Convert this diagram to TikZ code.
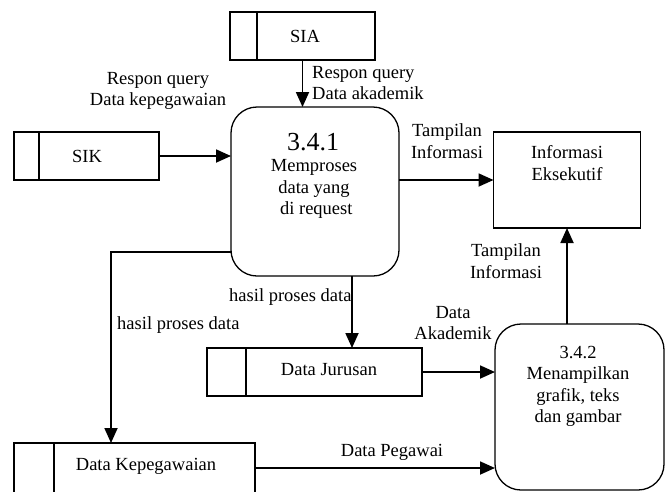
\documentclass[tikz,border=0pt]{standalone}
\usepackage{fontspec}
\setmainfont{Liberation Serif}
\usetikzlibrary{arrows.meta}
\begin{document}
\begin{tikzpicture}[x=1pt,y=-1pt,
  outline/.style={draw, line width=1.3pt, inner sep=0pt, outer sep=0pt},
  store/.style={outline},
  proc/.style={outline, rounded corners=26pt},
  divider/.style={line width=1.3pt},
  flow/.style={line width=1.8pt, -{Triangle[length=15pt,width=13pt]}},
  txt/.style={font=\fontsize{18.5}{21.5}\selectfont, align=center, inner sep=0pt},
  bigtxt/.style={font=\fontsize{26}{30}\selectfont, inner sep=0pt}]
\clip (0,0) rectangle (668,491);

% data stores
\node[store, minimum width=145pt, minimum height=48pt] (sia) at (302.5,36) {};
\draw[divider] ([xshift=27pt]sia.north west) -- ([xshift=27pt]sia.south west);
\node[txt] (siaT) at (305,36) {SIA};

\node[store, minimum width=145pt, minimum height=48pt] (sik) at (86.5,156) {};
\draw[divider] ([xshift=25pt]sik.north west) -- ([xshift=25pt]sik.south west);
\node[txt] (sikT) at (87,156) {SIK};

\node[store, minimum width=215pt, minimum height=48pt] (jur) at (314.5,372) {};
\draw[divider] ([xshift=39pt]jur.north west) -- ([xshift=39pt]jur.south west);
\node[txt] (jurT) at (329,370) {Data Jurusan};

\node[store, minimum width=241pt, minimum height=50pt] (kep) at (134.5,468) {};
\draw[divider] ([xshift=40pt]kep.north west) -- ([xshift=40pt]kep.south west);
\node[txt] (kepT) at (146,466) {Data Kepegawaian};

% external entity
\node[outline, minimum width=147pt, minimum height=96pt] (info) at (567,180) {};
\node[txt] (infoT) at (567,163) {Informasi\\Eksekutif};

% processes
\node[proc, minimum width=168pt, minimum height=169pt] (p1) at (315,191.5) {};
\node[bigtxt] (p1n) at (313,142) {3.4.1};
\node[txt] (p1T) at (314,189) {Memproses\\data yang\\\ di request};

\node[proc, minimum width=169pt, minimum height=166pt] (p2) at (579.5,407) {};
\node[txt] (p2T) at (578,386.5) {3.4.2\\Menampilkan\\grafik, teks\\dan gambar};

% flows
\coordinate (jx) at (352,0);
\coordinate (kx) at (111,252);
\draw[flow] (sia.south) -- (sia.south |- p1.north);
\draw[flow] (sik.east) -- (sik.east -| p1.west);
\draw[flow] (p1.east |- info.west) -- (info.west);
\draw[flow] (p2.north -| info.south) -- (info.south);
\draw[flow] (p1.south -| jx) -- (jur.north -| jx);
\draw[flow] (jur.east) -- (jur.east -| p2.west);
\draw[flow] (p1.west |- kx) -- (kx) -- (kep.north -| kx);
\draw[flow] (kep.east) -- (kep.east -| p2.west);

% flow labels
\node[txt] (l1) at (158,91) {Respon query\\Data kepegawaian};
\node[txt, align=left, anchor=west] (l2) at (312,83) {Respon query\\Data akademik};
\node[txt] (l3) at (447,141) {Tampilan\\Informasi};
\node[txt] (l4) at (506,261) {Tampilan\\Informasi};
\node[txt, anchor=west] (l5) at (229,297) {hasil proses data};
\node[txt, anchor=west] (l6) at (117,325) {hasil proses data};
\node[txt] (l7) at (453,323) {Data\\Akademik};
\node[txt] (l8) at (392,452) {Data Pegawai};
\end{tikzpicture}
\end{document}
